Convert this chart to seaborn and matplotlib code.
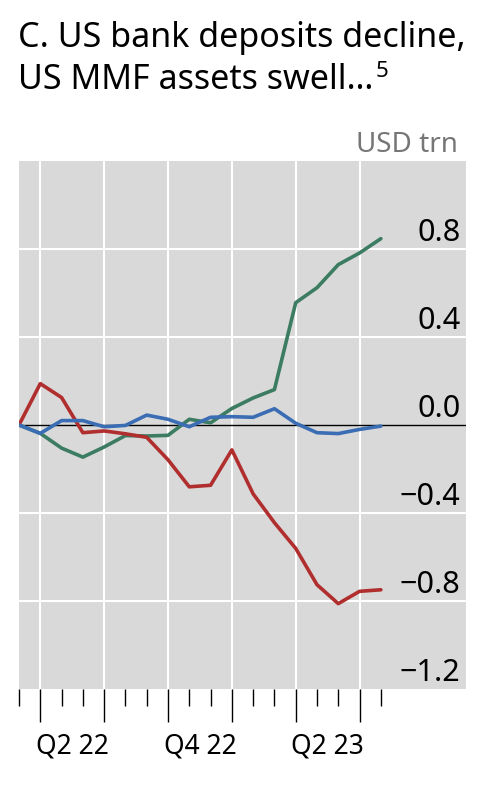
import pandas as pd
import matplotlib.pyplot as plt
import seaborn as sns

# monthly data, Mar 2022 .. Aug 2023 (change since Mar 2022, USD trn)
months = ["2022-03", "2022-04", "2022-05", "2022-06", "2022-07", "2022-08",
          "2022-09", "2022-10", "2022-11", "2022-12", "2023-01", "2023-02",
          "2023-03", "2023-04", "2023-05", "2023-06", "2023-07", "2023-08"]
mmf_assets = [0.0, -0.038, -0.105, -0.146, -0.10, -0.048, -0.05, -0.047, 0.026,
              0.01, 0.075, 0.123, 0.161, 0.556, 0.624, 0.729, 0.782, 0.847]
other = [0.0, -0.038, 0.02, 0.02, -0.008, -0.002, 0.045, 0.026, -0.008,
         0.035, 0.038, 0.035, 0.074, 0.008, -0.035, -0.039, -0.02, -0.005]
bank_deposits = [0.0, 0.188, 0.125, -0.035, -0.027, -0.04, -0.056, -0.158, -0.281,
                 -0.274, -0.113, -0.313, -0.444, -0.561, -0.726, -0.812, -0.756, -0.749]

quarter_labels = ["Q2 22", "Q4 22", "Q2 23"]
quarter_centres = [2.5, 8.5, 14.5]
y_ticks = [0.8, 0.4, 0.0, -0.4, -0.8, -1.2]

colors = {"MMF assets": "#3b7c62", "Bank deposits": "#b02f2e", "Other": "#3a6db4"}

sns.set_style("white", {"axes.facecolor": "#d9d9d9", "text.color": "black",
                        "xtick.bottom": True})
plt.rcParams['font.family'] = ['Noto Sans', 'DejaVu Sans']

n = len(months)
df = pd.DataFrame({
    "t": list(range(n)) * 3,
    "value": mmf_assets + bank_deposits + other,
    "series": ["MMF assets"] * n + ["Bank deposits"] * n + ["Other"] * n,
})

fig = plt.figure(figsize=(4.98, 7.86), dpi=100)
ax = fig.add_axes([19 / 498, 97 / 786, 447 / 498, 528 / 786])

# grid first so lines sit on top
for v in [0.8, 0.4, -0.4, -0.8]:
    ax.axhline(v, color="white", lw=1.5, zorder=0)
for q in [1, 4, 7, 10, 13, 16]:
    ax.axvline(q, color="white", lw=1.5, zorder=0)
ax.axhline(0, color="black", lw=1.0, zorder=1)

sns.lineplot(data=df, x="t", y="value", hue="series",
             hue_order=["MMF assets", "Bank deposits", "Other"],
             palette=colors, linewidth=2.6, legend=False, ax=ax, zorder=3)

ax.set_xlim(0, 21)
ax.set_ylim(-1.2, 1.2)
ax.set_xlabel("")
ax.set_ylabel("")
for s in ax.spines.values():
    s.set_visible(False)

ax.set_xticks([1, 4, 7, 10, 13, 16])
ax.set_xticks([m for m in range(n) if m % 3 != 1], minor=True)
ax.tick_params(axis="x", which="major", bottom=True, length=24, width=1.0,
               color="black", labelbottom=False, direction="out")
ax.tick_params(axis="x", which="minor", bottom=True, length=12, width=1.0,
               color="black", direction="out")
ax.set_yticks([])

for lab, c in zip(quarter_labels, quarter_centres):
    ax.annotate(lab, xy=(c, 1 - 753 / 786), xycoords=("data", "figure fraction"),
                ha="center", va="baseline", fontsize=19)

for v in y_ticks:
    lab = f"{v:.1f}".replace("-", "\u2212")
    ax.annotate(lab, xy=(1, v), xycoords=("axes fraction", "data"),
                xytext=(-4, 5.5), textcoords="offset points",
                ha="right", va="baseline", fontsize=22)

t1 = fig.text(18 / 498, 1 - 47 / 786, "C. US bank deposits decline,",
              fontsize=24.5, va="baseline", ha="left")
t2 = fig.text(18 / 498, 1 - 89 / 786, "US MMF assets swell\u2026",
              fontsize=24.5, va="baseline", ha="left")
ax.annotate("5", xy=(1, 1 - 77 / 786), xycoords=(t2, "figure fraction"),
            xytext=(1.5, 0), textcoords="offset points",
            ha="left", va="baseline", fontsize=16, annotation_clip=False)
fig.text(458 / 498, 1 - 152 / 786, "USD trn", fontsize=20, color="#767676",
         ha="right", va="baseline")

fig.savefig("out.png", dpi=100)
